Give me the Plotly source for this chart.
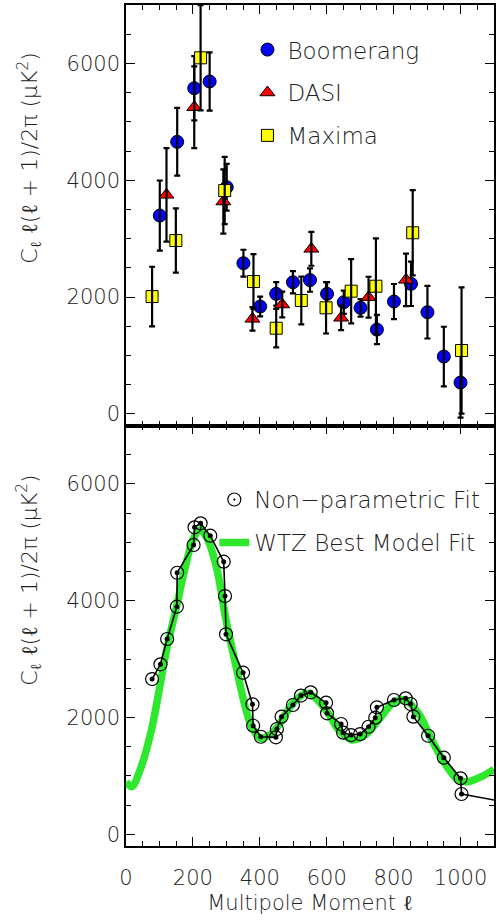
import plotly.graph_objects as go
from plotly.subplots import make_subplots

# ---- data ----
boom_l = [101, 153, 204, 250, 301, 351, 401, 449, 499, 550, 601, 651, 701, 750, 801, 852, 901, 950, 1000]
boom_c = [3395, 4657, 5575, 5690, 3880, 2579, 1837, 2054, 2253, 2290, 2054, 1911, 1815, 1443, 1923, 2226, 1740, 981, 536]
boom_e = [600, 580, 550, 500, 400, 230, 170, 200, 190, 200, 200, 200, 150, 250, 300, 380, 450, 510, 600]

dasi_l = [121, 204, 291, 378, 467, 554, 643, 725, 837]
dasi_c = [3750, 5250, 3635, 1626, 1872, 2825, 1644, 1997, 2294]
dasi_e = [800, 700, 550, 200, 220, 290, 210, 350, 450]

max_l = [78, 149, 223, 295, 381, 449, 524, 598, 673, 747, 857, 1003]
max_c = [2008, 2967, 6096, 3823, 2265, 1466, 1940, 1815, 2100, 2185, 3100, 1084]
max_e = [510, 550, 900, 575, 470, 330, 410, 440, 550, 820, 730, 1080]

np_l = [78, 103, 123, 152, 153, 202, 205, 223, 252, 292, 296, 299, 350, 378, 380, 403, 448, 451,
        465, 499, 523, 552, 598, 601, 643, 649, 673, 700, 725, 745, 750, 801, 836, 851, 859, 903,
        950, 1000, 1003]
np_c = [2659, 2911, 3344, 3897, 4479, 4954, 5257, 5325, 5113, 4668, 4080, 3425, 2767, 2226, 1860,
        1671, 1661, 1803, 2014, 2214, 2376, 2431, 2254, 2072, 1889, 1740, 1700, 1717, 1842, 1997,
        2175, 2300, 2329, 2231, 2014, 1688, 1312, 959, 690]
np_tail_l = [1003, 1100]
np_tail_c = [690, 587]

wtz_l = [0, 17, 42, 76, 101, 121, 151, 175, 200, 220, 240, 270, 299, 329, 359, 378, 403, 428,
         453, 478, 507, 537, 552, 601, 636, 676, 715, 755, 799, 834, 874, 914, 953, 993, 1022,
         1062, 1100]
wtz_c = [901, 815, 1101, 1786, 2527, 3156, 3897, 4526, 5039, 5210, 5096, 4582, 3669, 2870, 2128,
         1815, 1644, 1700, 1842, 2072, 2300, 2414, 2402, 2100, 1786, 1615, 1700, 1957, 2254, 2300,
         2072, 1615, 1216, 930, 901, 986, 1113]

y_ticks = [0, 2000, 4000, 6000]
x_ticks = [0, 200, 400, 600, 800, 1000]

FONT = "DejaVu Sans"
TXT = "#222222"

fig = make_subplots(rows=2, cols=1, shared_xaxes=False, vertical_spacing=0)

def data_set(x, y, e, name, symbol, color, size, group):
    fig.add_trace(go.Scatter(x=x, y=y, mode="markers", name=name, legend="legend",
                             legendgroup=group,
                             marker=dict(symbol=symbol, color=color, size=size,
                                         line=dict(color="black", width=1))),
                  row=1, col=1)
    fig.add_trace(go.Scatter(x=x, y=y, mode="markers", showlegend=False, hoverinfo="skip",
                             marker=dict(size=1, color="rgba(0,0,0,0)"),
                             error_y=dict(type="data", array=e, symmetric=True,
                                          color="black", thickness=2.2, width=3)),
                  row=1, col=1)

data_set(boom_l, boom_c, boom_e, "Boomerang", "circle", "#0000ff", 13, "g1")
data_set(dasi_l, dasi_c, dasi_e, "DASI", "triangle-up", "#ff0000", 13, "g2")
data_set(max_l, max_c, max_e, "Maxima", "square", "#ffff00", 12, "g3")

# bottom panel
fig.add_trace(go.Scatter(x=wtz_l, y=wtz_c, mode="lines", name="WTZ Best Model Fit",
                         legend="legend2", legendgroup="h2", legendrank=2,
                         line=dict(color="#2ee82e", width=7.5, shape="spline"),
                         hoverinfo="skip"), row=2, col=1)
fig.add_trace(go.Scatter(x=np_l, y=np_c, mode="lines", line=dict(color="black", width=1.6),
                         showlegend=False, hoverinfo="skip"), row=2, col=1)
fig.add_trace(go.Scatter(x=np_tail_l, y=np_tail_c, mode="lines", line=dict(color="black", width=1.6),
                         showlegend=False, hoverinfo="skip"), row=2, col=1)
fig.add_trace(go.Scatter(x=np_l, y=np_c, mode="markers", name="Non\u2212parametric Fit",
                         legend="legend2", legendgroup="h1", legendrank=1,
                         marker=dict(symbol="circle-open-dot", color="black", size=13,
                                     line=dict(color="black", width=1.2))), row=2, col=1)
fig.add_trace(go.Scatter(x=np_l, y=np_c, mode="markers", showlegend=False, hoverinfo="skip",
                         marker=dict(symbol="circle", color="black", size=5)), row=2, col=1)

axis_common = dict(showline=True, linecolor="black", linewidth=1.5, mirror="ticks",
                   ticks="inside", ticklen=9, tickwidth=1.3, tickcolor="black",
                   showgrid=False, zeroline=False,
                   tickfont=dict(family=FONT, size=21, color=TXT, weight=200))
xminor = dict(dtick=50, ticklen=5, tickwidth=1.2, tickcolor="black", ticks="inside")
yminor = dict(dtick=500, ticklen=5, tickwidth=1.2, tickcolor="black", ticks="inside")

fig.update_xaxes(range=[0, 1100], tickvals=x_ticks, minor=xminor, ticklabelstandoff=12,
                 **axis_common)
fig.update_xaxes(showticklabels=False, row=1, col=1)
fig.update_xaxes(title=dict(text="Multipole Moment \u2113", standoff=6,
                            font=dict(family=FONT, size=21, color=TXT, weight=200)),
                 row=2, col=1)
fig.update_yaxes(range=[-200, 7000], tickvals=y_ticks, minor=yminor, ticklabelstandoff=0,
                 **axis_common)

ylab = "C<sub>\u2113</sub> \u2113(\u2113 + 1)/2\u03c0 (\u03bcK<sup>2</sup>)"
for yy in [0.818, 0.316]:
    fig.add_annotation(text=ylab, xref="paper", yref="paper", x=-0.262, y=yy,
                       xanchor="center", yanchor="middle", textangle=-90, showarrow=False,
                       font=dict(family=FONT, size=22, color=TXT, weight=200))

fig.update_layout(
    width=496, height=924,
    margin=dict(l=126, r=0, t=5, b=78),
    paper_bgcolor="white", plot_bgcolor="white",
    showlegend=True,
    legend=dict(x=0.33, y=0.9725, xanchor="left", yanchor="top", bgcolor="rgba(0,0,0,0)",
                tracegroupgap=10, font=dict(family=FONT, size=23, color=TXT, weight=200)),
    legend2=dict(x=0.24, y=0.4375, xanchor="left", yanchor="top", bgcolor="rgba(0,0,0,0)",
                 tracegroupgap=10, font=dict(family=FONT, size=23, color=TXT, weight=200)),
)

fig.write_html("out.html", config={"displayModeBar": False},
               post_script="document.body.style.margin='0';document.body.style.padding='0';"
                           "document.body.style.overflow='hidden';"
                           "document.documentElement.style.overflow='hidden';")
